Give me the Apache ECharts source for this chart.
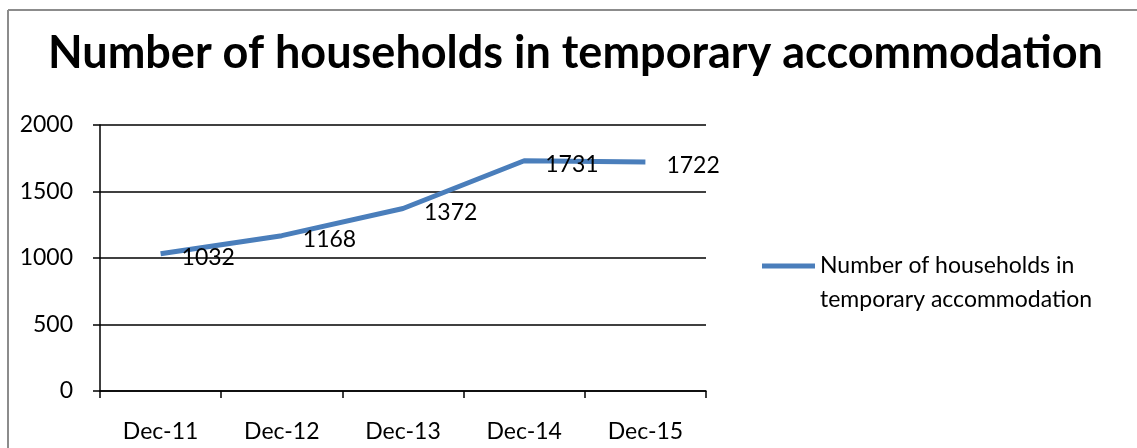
<!DOCTYPE html>
<html style="height: 100%">
<head>
	<meta charset="utf-8">
</head>
<body style="height: 100%; margin: 0; background: #fff">
<div id="container" style="width: 100%; height: 100%"></div>
<script type="text/javascript" src="https://cdn.jsdelivr.net/npm/echarts@6/dist/echarts.min.js"></script>
<script type="text/javascript">
    var dom = document.getElementById("container");
    var myChart = echarts.init(dom);

    var categories = ['Dec-11', 'Dec-12', 'Dec-13', 'Dec-14', 'Dec-15'];
    var households = [1032, 1168, 1372, 1731, 1722];
    var seriesName = 'Number of households in temporary accommodation';
    var yTicks = [0, 500, 1000, 1500, 2000];

    var font = 'Lato, "Open Sans", sans-serif';
    var blue = '#4A7EBB';

    var option = {
        backgroundColor: '#fff',
        animation: false,
        title: {
            text: seriesName,
            left: 43,
            top: 26,
            textStyle: {
                fontFamily: font,
                fontWeight: 'bold',
                fontSize: 45,
                color: '#000'
            }
        },
        legend: {
            left: 757,
            top: 210,
            icon: 'rect',
            itemWidth: 53,
            itemHeight: 5,
            data: [seriesName],
            // blank first line so the icon sits beside the first text line
            formatter: function () {
                return ' \nNumber of households in\ntemporary accommodation';
            },
            textStyle: {
                fontFamily: font,
                fontSize: 23,
                color: '#000',
                lineHeight: 34
            }
        },
        grid: {
            left: 100,
            right: 431,
            top: 125,
            bottom: 57
        },
        xAxis: {
            type: 'category',
            data: categories,
            boundaryGap: true,
            axisLine: { lineStyle: { color: '#000', width: 1.5 } },
            axisTick: { show: true, length: 7, inside: false, lineStyle: { color: '#000', width: 1.5 } },
            axisLabel: {
                margin: 29,
                fontFamily: font,
                fontSize: 23,
                color: '#000'
            }
        },
        yAxis: {
            type: 'value',
            min: yTicks[0],
            max: yTicks[yTicks.length - 1],
            interval: 500,
            axisLine: { show: true, lineStyle: { color: '#000', width: 1.5 } },
            axisTick: { show: true, length: 7, lineStyle: { color: '#000', width: 1.5 } },
            splitLine: { show: true, lineStyle: { color: '#000', width: 1.5 } },
            axisLabel: {
                margin: 27,
                fontFamily: font,
                fontSize: 23,
                color: '#000',
                formatter: function (v) { return String(v); }
            }
        },
        series: [{
            name: seriesName,
            type: 'line',
            data: households,
            symbol: 'circle',
            symbolSize: 0,
            lineStyle: { color: blue, width: 5 },
            itemStyle: { color: blue },
            label: {
                show: true,
                position: 'right',
                distance: 21,
                offset: [0, 4],
                fontFamily: font,
                fontSize: 23,
                color: '#000'
            }
        }],
        graphic: [{
            type: 'line',
            shape: { x1: 8, y1: 10, x2: 1137, y2: 10 },
            style: { stroke: '#8c8c8c', lineWidth: 2 },
            silent: true
        }, {
            type: 'line',
            shape: { x1: 8, y1: 10, x2: 8, y2: 448 },
            style: { stroke: '#8c8c8c', lineWidth: 2 },
            silent: true
        }]
    };

    myChart.setOption(option, true);
</script>
</body>
</html>
